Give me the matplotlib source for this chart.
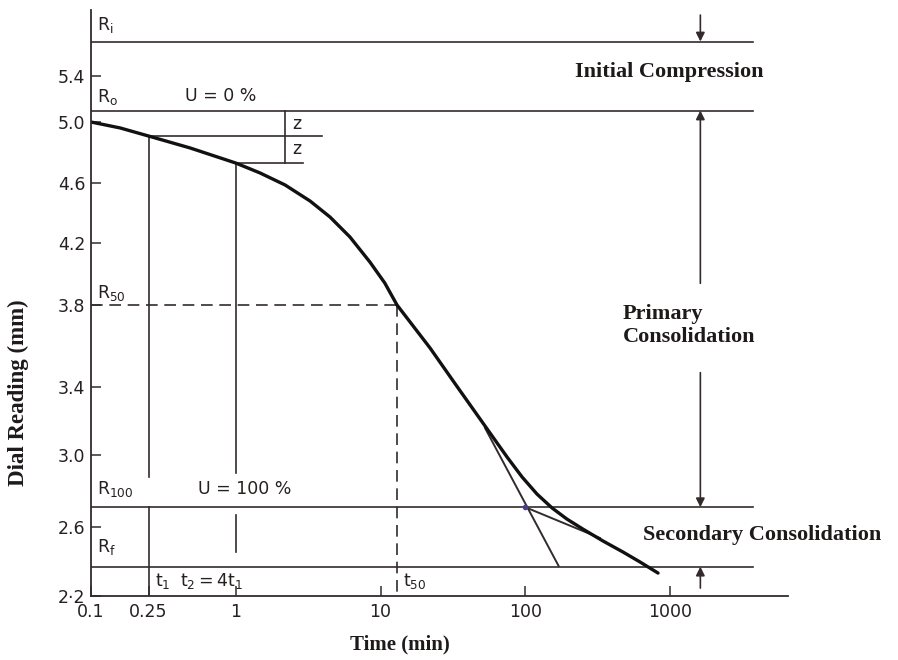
import numpy as np
import matplotlib
matplotlib.use('Agg')
import matplotlib.pyplot as plt

# %% data read off the schematic (time in min, dial reading in mm)

time_min = [0.1, 0.159, 0.25, 0.483, 1, 1.47, 2.19, 3.26, 4.48, 6.15, 8.45, 10.7, 13,
            22.0, 33.2, 48.7, 74.8, 95.0, 120.5, 153, 194, 250, 344, 473, 621, 826]
dial_mm = [5.0, 4.961, 4.908, 4.830, 4.731, 4.666, 4.587, 4.480, 4.373, 4.240, 4.077, 3.942, 3.8,
           3.590, 3.410, 3.212, 2.989, 2.878, 2.783, 2.706, 2.644, 2.588, 2.519, 2.455, 2.397, 2.333]

# reference readings
r_i = 5.70
r_0 = 5.10
r_50 = 3.80
r_100 = 2.71
r_f = 2.37
z_mid = 4.91
z_low = 4.73

# reference times
t1 = 0.25
t2 = 1.0
t50 = 13.0
t_end = 3745

# tangents (primary + secondary compression)
tan1_t = [52.7, 170]
tan1_r = [3.159, 2.374]
tan2_t = [100, 328]
tan2_r = [2.71, 2.536]

x_ticks = [0.1, 0.25, 1, 10, 100, 1000]
x_tick_labels = ['0.1', '0.25', '1', '10', '100', '1000']
y_ticks = [2.2, 2.6, 3.0, 3.4, 3.8, 4.2, 4.6, 5.0, 5.4]
y_tick_labels = ['2·2', '2.6', '3.0', '3.4', '3.8', '4.2', '4.6', '5.0', '5.4']

# %% the hand-drawn y axis is not evenly spaced -> piecewise scale
_vals = np.array([2.0, 2.2, 2.6, 3.0, 3.4, 3.8, 4.2, 4.6, 5.0, 5.4, 6.0])
_pos = np.array([-34.5, 0, 69, 141, 209, 291, 353, 413, 474, 520, 589])


def fwd(v):
    return np.interp(v, _vals, _pos)


def inv(p):
    return np.interp(p, _pos, _vals)


ink = '#332b2b'
txt = '#262020'

fig = plt.figure(figsize=(8.98, 6.6), dpi=100)
ax = fig.add_axes([91 / 898, 64 / 660, 697 / 898, 586 / 660])
ax.set_xscale('log')
ax.set_yscale('function', functions=(fwd, inv))
ax.set_xlim(0.1, 6530)
ax.set_ylim(2.2, 5.974)

for s in ['top', 'right']:
    ax.spines[s].set_visible(False)
for s in ['left', 'bottom']:
    ax.spines[s].set_color(ink)
    ax.spines[s].set_linewidth(1.3)

ax.set_xticks(x_ticks)
ax.set_xticklabels(x_tick_labels)
ax.set_yticks(y_ticks)
ax.set_yticklabels(y_tick_labels)
ax.minorticks_off()
ax.tick_params(direction='in', length=7, width=1.1, color=ink, labelsize=12.5, labelcolor=txt)
ax.tick_params(axis='y', pad=4)
ax.tick_params(axis='x', pad=5)

lw_thin = 1.2

# horizontal reference lines
for r in [r_i, r_0, r_100, r_f]:
    ax.plot([0.1, t_end], [r, r], color=ink, lw=lw_thin)

# z construction
ax.plot([t1, 3.94], [z_mid, z_mid], color=ink, lw=lw_thin)
ax.plot([t2, 2.92], [z_low, z_low], color=ink, lw=lw_thin)
ax.plot([2.19, 2.19], [r_0, z_low], color=ink, lw=lw_thin)

# verticals at t1 and t2
ax.plot([t1, t1], [z_mid, 2.88], color=ink, lw=lw_thin)
ax.plot([t1, t1], [r_100, 2.2], color=ink, lw=lw_thin)
ax.plot([t2, t2], [z_low, 2.90], color=ink, lw=lw_thin)
ax.plot([t2, t2], [2.667, 2.455], color=ink, lw=lw_thin)

# R50 / t50 dashed
ax.plot([0.1, t50], [r_50, r_50], color=ink, lw=lw_thin, ls=(0, (7, 4)))
ax.plot([t50, t50], [r_50, 2.2], color=ink, lw=lw_thin, ls=(0, (7, 4)))

# tangents
ax.plot(tan1_t, tan1_r, color=ink, lw=1.4)
ax.plot(tan2_t, tan2_r, color=ink, lw=1.4)
ax.plot([100], [r_100], marker='o', ms=4, color='#4a3f8a', mec='none')

# consolidation curve
ax.plot(time_min, dial_mm, color='#111111', lw=2.4, solid_capstyle='round', solid_joinstyle='round')

# arrows on the right
t_arr = 1620
arr = dict(arrowstyle='-|>', color=ink, lw=1.2, mutation_scale=13, shrinkA=0, shrinkB=0)
ax.annotate('', xy=(t_arr, r_i), xytext=(t_arr, 5.93), arrowprops=arr, annotation_clip=False)
ax.annotate('', xy=(t_arr, r_0), xytext=(t_arr, 3.94), arrowprops=arr)
ax.annotate('', xy=(t_arr, r_100), xytext=(t_arr, 3.47), arrowprops=arr)
ax.annotate('', xy=(t_arr, r_f), xytext=(t_arr, 2.246), arrowprops=arr)

# labels on the drawing
fs = 12.5
ax.text(0.11, 5.84, r'$\mathregular{R_i}$', fontsize=fs, color=txt, va='center')
ax.text(0.11, 5.22, r'$\mathregular{R_o}$', fontsize=fs, color=txt, va='center')
ax.text(0.446, 5.23, 'U = 0 %', fontsize=fs, color=txt, va='center')
ax.text(2.45, 4.99, 'z', fontsize=fs, color=txt, va='center')
ax.text(2.45, 4.82, 'z', fontsize=fs, color=txt, va='center')
ax.text(0.11, 3.88, r'$\mathregular{R_{50}}$', fontsize=fs, color=txt, va='center')
ax.text(0.11, 2.81, r'$\mathregular{R_{100}}$', fontsize=fs, color=txt, va='center')
ax.text(0.548, 2.81, 'U = 100 %', fontsize=fs, color=txt, va='center')
ax.text(0.11, 2.484, r'$\mathregular{R_f}$', fontsize=fs, color=txt, va='center')
ax.text(0.277, 2.287, r'$\mathregular{t_1}$', fontsize=fs, color=txt, va='center')
ax.text(0.412, 2.287, r'$\mathregular{t_2 = 4t_1}$', fontsize=fs, color=txt, va='center')
ax.text(14.3, 2.287, r'$\mathregular{t_{50}}$', fontsize=fs, color=txt, va='center')

serif = dict(family='Liberation Serif', weight='bold', color='#1e1a1a')
ax.text(221, 5.435, 'Initial Compression', fontsize=16, va='center', **serif)
ax.text(474, 3.70, 'Primary\nConsolidation', fontsize=16, va='center', linespacing=1.2, **serif)
ax.text(651, 2.554, 'Secondary Consolidation', fontsize=16, va='center', **serif)

fig.text(0.02, 0.405, 'Dial Reading (mm)', rotation=90, ha='center', va='center', fontsize=16.5, **serif)
fig.text(0.445, 0.023, 'Time (min)', ha='center', va='center', fontsize=15, **serif)

fig.savefig('out.png', dpi=100)
